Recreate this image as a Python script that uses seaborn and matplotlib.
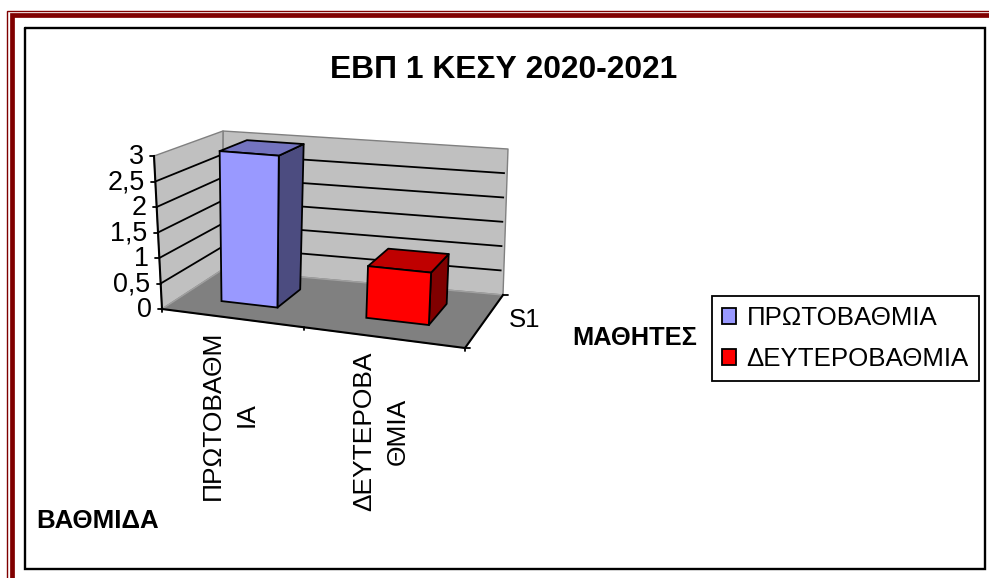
import numpy as np
import pandas as pd
import seaborn as sns
import matplotlib
matplotlib.use("Agg")
import matplotlib.pyplot as plt
from matplotlib.patches import Polygon, Patch
from matplotlib.transforms import Transform

# ---- data ----
categories = ["ΠΡΩΤΟΒΑΘΜΙΑ", "ΔΕΥΤΕΡΟΒΑΘΜΙΑ"]
values = [3, 1]
y_ticks = [0, 0.5, 1, 1.5, 2, 2.5, 3]
y_tick_labels = ["0", "0,5", "1", "1,5", "2", "2,5", "3"]
x_tick_labels = ["ΠΡΩΤΟΒΑΘΜ\nΙΑ", "ΔΕΥΤΕΡΟΒΑ\nΘΜΙΑ"]
series_label = "S1"
title = "ΕΒΠ 1 ΚΕΣΥ 2020-2021"
y_title = "ΜΑΘΗΤΕΣ"
x_title = "ΒΑΘΜΙΔΑ"

front_colors = ["#9999FF", "#FF0000"]
top_colors = ["#7373BF", "#BF0000"]
side_colors = ["#4C4C80", "#800000"]

sns.set_theme(style="white")
plt.rcParams["font.family"] = ["Liberation Sans", "DejaVu Sans"]

W, H = 989, 578
fig = plt.figure(figsize=(W / 100, H / 100), dpi=100)
ax = fig.add_axes([0, 0, 1, 1])

# ---- perspective box (pixel corners of the chart cube) ----
def homography(pts):
    src = [(0, 0), (2, 0), (2, 1), (0, 1)]
    A, b = [], []
    for (u, v), (x, y) in zip(src, pts):
        A.append([u, v, 1, 0, 0, 0, -u * x, -v * x]); b.append(x)
        A.append([0, 0, 0, u, v, 1, -u * y, -v * y]); b.append(y)
    return np.append(np.linalg.solve(np.array(A, float), np.array(b, float)), 1).reshape(3, 3)

H_floor = homography([(162, 309), (465, 348), (503, 295), (222, 270)])
H_top = homography([(154, 156), (473, 183), (508, 149), (223, 131)])
YMAX = max(y_ticks)
WARP = 0.06

def apply(Hm, c, d):
    c, d = np.asarray(c, float), np.asarray(d, float)
    c = c + WARP * c * (2 - c)
    w = Hm[2, 0] * c + Hm[2, 1] * d + Hm[2, 2]
    return ((Hm[0, 0] * c + Hm[0, 1] * d + Hm[0, 2]) / w,
            (Hm[1, 0] * c + Hm[1, 1] * d + Hm[1, 2]) / w)

def project(c, d, v):
    x0, y0 = apply(H_floor, c, d)
    x1, y1 = apply(H_top, c, d)
    t = np.asarray(v, float) / YMAX
    return np.column_stack([x0 + (x1 - x0) * t, y0 + (y1 - y0) * t])

D_FRONT, D_BACK = 0.3, 0.72

class FrontPlane(Transform):
    input_dims = output_dims = 2
    is_separable = False
    has_inverse = False
    def __init__(self, d):
        super().__init__()
        self.d = d
    def transform_non_affine(self, xy):
        xy = np.asarray(xy, float)
        return project(xy[:, 0] + 0.5, np.full(len(xy), self.d), xy[:, 1])

# ---- seaborn bars: the front faces ----
df = pd.DataFrame({"cat": categories, "val": values})
sns.barplot(data=df, x="cat", y="val", hue="cat", hue_order=categories, order=categories,
            palette=front_colors, width=0.4, dodge=False, legend=False, saturation=1,
            edgecolor="black", linewidth=1.3, ax=ax)
bars = sorted([p for p in ax.patches if p.get_height() > 0], key=lambda p: p.get_x())

GRAY = "#808080"
def face(pts, fc, ec="black", lw=1.3, z=3):
    ax.add_patch(Polygon(pts, closed=True, facecolor=fc, edgecolor=ec, linewidth=lw,
                         joinstyle="round", zorder=z))

# walls and floor
face(project([0, 2, 2, 0], [1, 1, 1, 1], [0, 0, YMAX, YMAX]), "#C0C0C0", GRAY, 1, 1)
face(project([0, 0, 0, 0], [0, 1, 1, 0], [0, 0, YMAX, YMAX]), "#C0C0C0", GRAY, 1, 1)
face(project([0, 2, 2, 0], [0, 0, 1, 1], [0, 0, 0, 0]), "#808080", "#A0A0A0", 1, 1.1)

# gridlines, axes and ticks
for v, lab in zip(y_ticks, y_tick_labels):
    p = project([0, 0, 1.985], [0, 1, 1], [v, v, v])
    if 0 < v < YMAX:
        ax.plot(p[:, 0], p[:, 1], color="black", lw=1.3, zorder=2, solid_capstyle="butt")
    t = p[0]
    ax.plot([t[0] - 4, t[0]], [t[1], t[1]], color="black", lw=1.3, zorder=2)
    ax.text(t[0] - 10.5, t[1] + 1, lab, ha="right", va="center", fontsize=19.4, color="black")

axis_paths = [project([0, 0], [0, 0], [0, YMAX]),
              project([0, 2], [0, 0], [0, 0]),
              project([2, 2], [0, 1], [0, 0])]
for p in axis_paths:
    ax.plot(p[:, 0], p[:, 1], color="black", lw=1.5, zorder=2.5, solid_capstyle="projecting")
for c, d in [(0, 0), (1, 0), (2, 0)]:
    p = project([c], [d], [0])[0]
    ax.plot([p[0], p[0]], [p[1], p[1] + 3], color="black", lw=1.3, zorder=2)
for d in (0, 1):
    p = project([2], [d], [0])[0]
    ax.plot([p[0], p[0] + 5], [p[1], p[1]], color="black", lw=1.3, zorder=2)

# extruded sides/tops built from the seaborn bars' own geometry
for bar, tc, sc in zip(bars, top_colors, side_colors):
    c0 = bar.get_x() + 0.5
    c1 = c0 + bar.get_width()
    h = bar.get_height()
    face(project([c1, c1, c1, c1], [D_FRONT, D_BACK, D_BACK, D_FRONT], [0, 0, h, h]), sc, z=3)
    face(project([c0, c1, c1, c0], [D_FRONT, D_FRONT, D_BACK, D_BACK], [h, h, h, h]), tc, z=3)
    bar.set_transform(FrontPlane(D_FRONT) + ax.transData)
    bar.set_clip_on(False)
    bar.set_zorder(4)

# ---- texts ----
ax.text(504, 70, title, ha="center", va="center", fontsize=22.9, fontweight="bold", color="black")
ax.text(524.5, 320, series_label, ha="center", va="center", fontsize=18.5, color="black")
ax.text(635, 338, y_title, ha="center", va="center", fontsize=18.3, fontweight="bold", color="black")
ax.text(98, 521, x_title, ha="center", va="center", fontsize=18.6, fontweight="bold", color="black")
for (x, y), lab in zip([(230, 415), (381.5, 431)], x_tick_labels):
    ax.text(x, y, lab, rotation=90, ha="center", va="center", multialignment="center",
            fontsize=19, linespacing=1.5, color="black")

# ---- frames ----
DARK = "#800000"
ax.plot([6.7, 6.7, W], [H, 10.7, 10.7], color=DARK, lw=1.0, solid_joinstyle="miter")
ax.plot([12.3, 12.3, W], [H, 15.4, 15.4], color=DARK, lw=3.4, solid_joinstyle="miter")
ax.plot([24.5, 24.5, 984.5, 984.5, 24.5], [28, 569, 569, 28, 28], color="black", lw=1.7,
        solid_joinstyle="miter", zorder=1)

# ---- legend ----
handles = [Patch(facecolor=f, edgecolor="black", linewidth=1.3) for f in front_colors]
leg = ax.legend(handles, categories, loc="upper left",
                bbox_to_anchor=(711.7 / W, 1 - 295.7 / H), bbox_transform=fig.transFigure,
                fontsize=18.6, frameon=True, fancybox=False, edgecolor="black", framealpha=1,
                borderaxespad=0, borderpad=0.4, labelspacing=0.66, handlelength=0.55,
                handleheight=0.55, handletextpad=0.4)
leg.get_frame().set_linewidth(1.3)
for t in leg.get_texts():
    t.set_color("black")

ax.set_xlim(0, W)
ax.set_ylim(H, 0)
ax.axis("off")
fig.savefig("out.png", dpi=100)
